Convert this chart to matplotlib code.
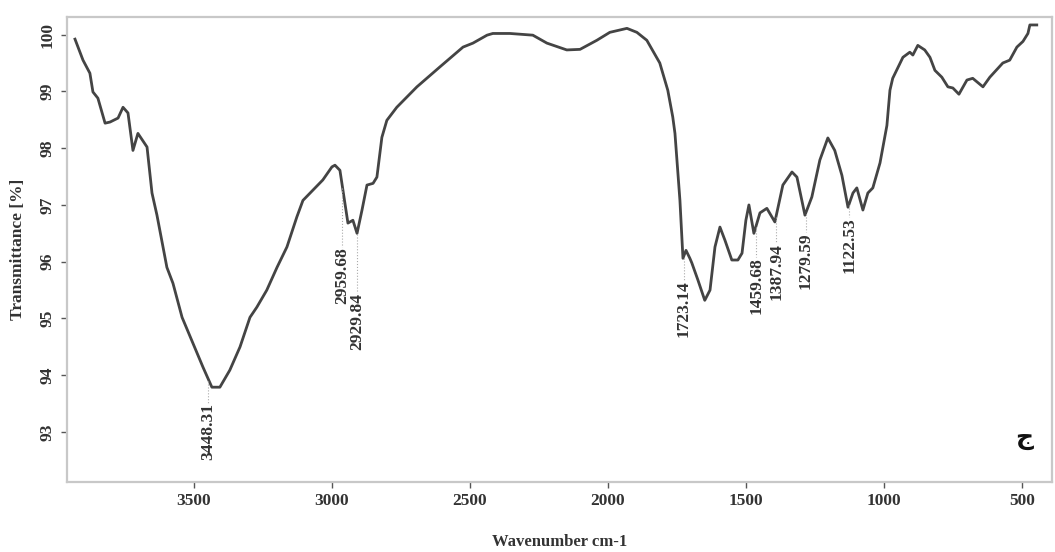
import matplotlib
matplotlib.use("Agg")
import matplotlib.pyplot as plt
import numpy as np

# FTIR spectrum
wn = [3931, 3902, 3877, 3866, 3848, 3822, 3804, 3775, 3757, 3739, 3721, 3703,
      3670, 3652, 3634, 3598, 3576, 3543, 3504, 3467, 3435, 3406, 3370, 3333,
      3297, 3272, 3236, 3199, 3163, 3127, 3105, 3069, 3033, 3000, 2989, 2971,
      2953, 2942, 2924, 2909, 2891, 2873, 2851, 2837, 2819, 2801, 2765, 2692,
      2609, 2525, 2489, 2438, 2417, 2355, 2272, 2221, 2149, 2101, 2040, 1993,
      1931, 1895, 1859, 1812, 1783, 1765, 1757, 1739, 1728, 1717, 1703, 1696,
      1674, 1649, 1630, 1612, 1594, 1576, 1551, 1529, 1514, 1500, 1489, 1471,
      1449, 1424, 1395, 1366, 1333, 1315, 1286, 1261, 1232, 1203, 1178, 1152,
      1130, 1112, 1098, 1076, 1058, 1040, 1014, 989, 978, 968, 931, 906, 895,
      877, 852, 833, 815, 790, 768, 750, 728, 699, 678, 641, 616, 569, 544,
      518, 496, 478, 471, 446]
trans = [99.92, 99.55, 99.32, 98.99, 98.88, 98.44, 98.46, 98.53, 98.72, 98.62, 97.96, 98.26,
         98.02, 97.21, 96.82, 95.90, 95.62, 95.02, 94.57, 94.14, 93.79, 93.79, 94.09, 94.50,
         95.02, 95.20, 95.50, 95.90, 96.26, 96.79, 97.08, 97.26, 97.44, 97.67, 97.70, 97.61,
         97.03, 96.68, 96.73, 96.50, 96.91, 97.35, 97.38, 97.49, 98.19, 98.49, 98.72, 99.08,
         99.43, 99.78, 99.85, 99.99, 100.02, 100.02, 99.99, 99.85, 99.73, 99.74, 99.90, 100.04,
         100.11, 100.04, 99.90, 99.50, 99.02, 98.55, 98.26, 97.08, 96.06, 96.20, 96.06, 95.98,
         95.68, 95.32, 95.50, 96.26, 96.61, 96.38, 96.03, 96.03, 96.15, 96.73, 97.00, 96.50,
         96.86, 96.94, 96.70, 97.35, 97.58, 97.49, 96.82, 97.14, 97.79, 98.18, 97.96, 97.52,
         96.96, 97.21, 97.30, 96.91, 97.21, 97.30, 97.74, 98.40, 99.02, 99.23, 99.60, 99.69, 99.64,
         99.81, 99.73, 99.60, 99.37, 99.25, 99.08, 99.06, 98.95, 99.20, 99.23, 99.08, 99.25, 99.50, 99.55,
         99.78, 99.88, 100.02, 100.17, 100.17]

peak_wn = [3448.31, 2959.68, 2929.84, 1723.14, 1459.68, 1387.94, 1279.59, 1122.53]
peak_top = [93.51, 96.26, 95.45, 95.68, 96.08, 96.33, 96.52, 96.79]
# where each label sits along the axis (as drawn in the picture)
label_x = [3448, 2962, 2910, 1725, 1462, 1390, 1282, 1125]

xticks = [3500, 3000, 2500, 2000, 1500, 1000, 500]
yticks = [93, 94, 95, 96, 97, 98, 99, 100]

serif = ['Liberation Serif', 'DejaVu Serif']
frame_col = '#c8c8c8'
txt_col = '#333333'

fig = plt.figure(figsize=(10.55, 5.52), dpi=100)
ax = fig.add_axes([0.0635, 0.1268, 0.9336, 0.8424])

ax.plot(wn, trans, color='#444444', lw=2.0, solid_joinstyle='round')

# peak labels with dotted leaders
for w, lx, top in zip(peak_wn, label_x, peak_top):
    dip = np.interp(lx, wn[::-1], trans[::-1])
    ax.plot([lx, lx], [dip - 0.03, top], color='#aaaaaa', lw=0.8, ls=':')
    ax.text(lx, top, '%.2f' % w, rotation=90, ha='center', va='top',
            fontsize=12.5, fontweight='bold', family=serif, color=txt_col)

ax.set_xlim(3960, 391)
ax.set_ylim(92.12, 100.31)
ax.set_xticks(xticks)
ax.set_yticks(yticks)
ax.set_xticklabels([str(t) for t in xticks], family=serif, fontweight='bold',
                   fontsize=12.5, color=txt_col)
ax.set_yticklabels([str(t) for t in yticks], family=serif, fontweight='bold',
                   fontsize=12.5, color=txt_col, rotation=90, va='center')
ax.tick_params(direction='out', length=4, width=1, color='#555555', pad=4)

for s in ax.spines.values():
    s.set_color(frame_col)
    s.set_linewidth(1.6)

ax.set_xlabel('Wavenumber cm-1', family=serif, fontweight='bold', fontsize=12,
              color=txt_col, labelpad=18)
ax.set_ylabel('Transmittance [%]', family=serif, fontweight='bold', fontsize=12.5,
              color=txt_col, labelpad=10)

ax.text(0.972, 0.095, 'ج', transform=ax.transAxes, ha='center', va='center',
        fontsize=18, fontweight='bold', family=['DejaVu Sans'], color='#111111')

fig.savefig('out.png', dpi=100)
